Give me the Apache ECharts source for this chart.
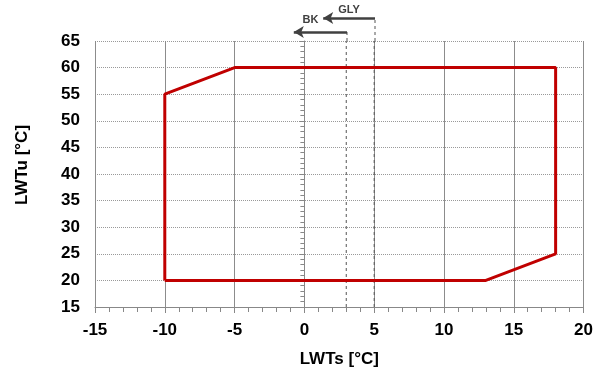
<!DOCTYPE html>
<html><head><meta charset="utf-8">
<script src="https://cdn.jsdelivr.net/npm/echarts@6/dist/echarts.min.js"></script>
<style>html,body{margin:0;padding:0;background:#fff}#c{width:596px;height:374px}</style>
</head><body><div id="c"></div>
<script>
// envelope polygon (LWTs, LWTu)
const envelopeX = [-10, -10, -5, 18, 18, 13, -10];
const envelopeY = [20, 55, 60, 60, 25, 20, 20];
// annotation limits (LWTs) and arrow tips
const limitNames = ['GLY', 'BK'];
const limitX = [5, 3];
const arrowTipX = [1.3, -0.8];
const arrowLevel = [23, 9];   // height in annotation strip units
const xTicks = {min: -15, max: 20, step: 5};
const yTicks = {min: 15, max: 65, step: 5};

const font = 'Liberation Sans, Arial, sans-serif';
const labelDist = [3, 7];
const labelPad = [[0, 0, 0, 0], [0, 20, 0, 0]];
const chart = echarts.init(document.getElementById('c'));
const series = [{
  type: 'line', xAxisIndex: 0, yAxisIndex: 0, symbol: 'none',
  data: envelopeX.map((x, i) => [x, envelopeY[i]]),
  lineStyle: {color: '#C00000', width: 3}, z: 5
}];
limitX.forEach((x, i) => {
  series.push({
    type: 'line', xAxisIndex: 0, yAxisIndex: 0, symbol: 'none', silent: true,
    data: [[x, yTicks.min], [x, yTicks.max]],
    lineStyle: {color: '#555', width: 1, type: [3, 3]}, z: 3
  });
  series.push({
    type: 'line', xAxisIndex: 1, yAxisIndex: 1, symbol: 'none', silent: true,
    data: [[x, 0], [x, arrowLevel[i]]],
    lineStyle: {color: '#555', width: 1, type: [3, 3]}, z: 3,
    markLine: {
      silent: true, symbol: ['none', 'arrow'], symbolSize: [9, 10],
      lineStyle: {color: '#404040', width: 2.5, type: 'solid'},
      label: {show: true, formatter: limitNames[i], position: 'insideMiddleTop',
              color: '#404040', fontWeight: 'bold', fontSize: 11, fontFamily: font,
              distance: labelDist[i], padding: labelPad[i]},
      data: [[{coord: [x, arrowLevel[i]]}, {coord: [arrowTipX[i], arrowLevel[i]]}]]
    }
  });
});

chart.setOption({
  animation: false,
  grid: [
    {left: 95, right: 11, top: 41, bottom: 67},
    {left: 95, right: 11, top: 5, height: 36}
  ],
  xAxis: [{
    type: 'value', gridIndex: 0, min: xTicks.min, max: xTicks.max, interval: xTicks.step,
    name: 'LWTs [°C]', nameLocation: 'middle', nameGap: 44,
    nameTextStyle: {fontFamily: font, fontWeight: 'bold', fontSize: 17, color: '#000'},
    axisLine: {lineStyle: {color: '#888', width: 1}},
    axisTick: {show: true, length: 6, lineStyle: {color: '#888'}},
    minorTick: {show: true, splitNumber: 5, length: 5, lineStyle: {color: '#888'}},
    axisLabel: {fontFamily: font, fontWeight: 'bold', fontSize: 17, color: '#000', margin: 15},
    splitLine: {show: true, lineStyle: {color: '#8c8c8c', width: 1, type: 'solid'}}
  }, {
    type: 'value', gridIndex: 1, min: xTicks.min, max: xTicks.max, show: false
  }],
  yAxis: [{
    type: 'value', gridIndex: 0, min: yTicks.min, max: yTicks.max, interval: yTicks.step,
    name: 'LWTu [°C]', nameLocation: 'middle', nameGap: 64,
    nameTextStyle: {fontFamily: font, fontWeight: 'bold', fontSize: 17, color: '#000', padding: [0, 0, 0, 18]},
    axisLine: {show: true, lineStyle: {color: '#888', width: 1}},
    axisTick: {show: true, length: 5, lineStyle: {color: '#888'}},
    minorTick: {show: true, splitNumber: 5, length: 4, lineStyle: {color: '#888'}},
    axisLabel: {fontFamily: font, fontWeight: 'bold', fontSize: 17, color: '#000', margin: 15},
    splitLine: {show: true, lineStyle: {color: '#999', width: 1, type: [1, 1]}}
  }, {
    type: 'value', gridIndex: 1, min: 0, max: 36, show: false
  }],
  series: series
});
</script></body></html>
